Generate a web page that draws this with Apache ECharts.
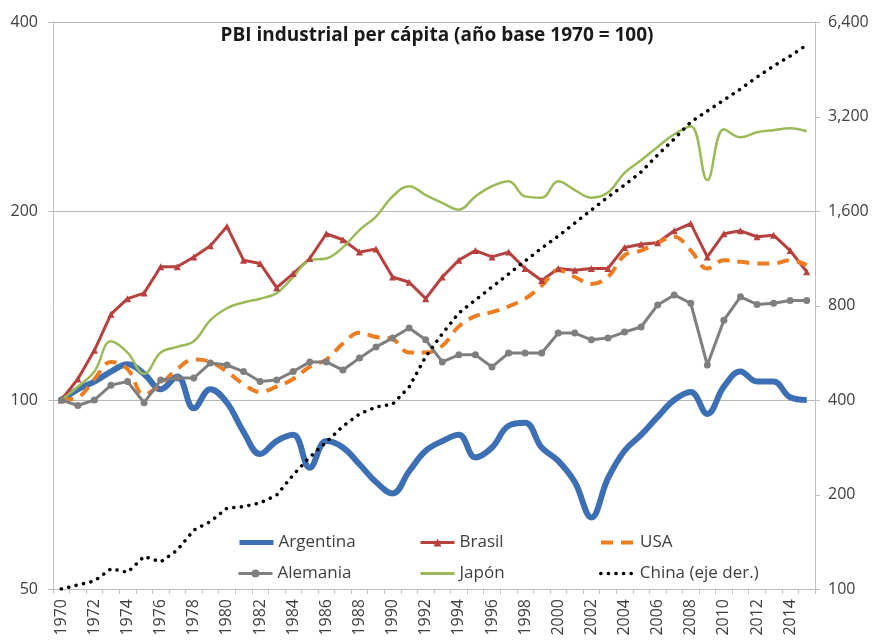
<!DOCTYPE html>
<html>
<head>
<meta charset="utf-8">
<script src="https://cdn.jsdelivr.net/npm/echarts@6/dist/echarts.min.js"></script>
<style>
  html, body { margin: 0; padding: 0; background: #fff; }
  #chart { width: 874px; height: 643px; }
</style>
</head>
<body>
<div id="chart"></div>
<script>
// años 1970-2015
const years = []
for (let y = 1970; y <= 2015; y++) years.push(String(y))

// índices base 1970 = 100
const argentina = [100, 104, 107, 111, 114, 110, 104, 109, 97, 104, 99, 89, 82, 86, 88, 78, 86, 84, 79, 74,
  71, 77, 83, 86, 88, 81, 84, 91, 92, 84, 80, 74, 65, 75, 83, 88, 94, 100, 103, 95,
  105, 111, 107, 107, 101, 100]
const brasil = [100, 108, 120, 137, 145, 148, 163, 163, 169, 176, 189, 167, 165, 151, 159, 168, 184, 180, 172, 174,
  157, 154, 145, 157, 167, 173, 169, 172, 162, 155, 162, 161, 162, 162, 175, 177, 178, 186, 191, 169,
  184, 186, 182, 183, 173, 160]
const usa = [100, 101, 108, 115, 112, 102, 106, 112, 116, 115, 111, 106, 103, 105, 108, 113, 116, 123, 128, 126,
  125, 119, 119, 122, 131, 136, 138, 141, 145, 152, 161, 157, 153, 157, 170, 173, 178, 182, 173, 162,
  167, 166, 165, 165, 167, 164]
const alemania = [100, 98, 100, 105.6, 107, 99, 107.6, 108.4, 108.4, 114.5, 113.7, 111, 107, 107.6, 111, 115, 115, 111.6, 116.6, 121.5,
  125.5, 130.2, 124.7, 115, 118, 118, 112.9, 118.8, 118.8, 118.8, 127.8, 127.8, 124.7, 125.5, 128.3, 130.7, 141.7, 147, 142.6, 113.7,
  134, 146, 142, 142.6, 144, 144]
const japon = [100, 105, 111, 124, 119, 110, 119, 121.5, 124, 134, 140, 143, 145, 148, 157, 167, 168, 175, 186.5, 196,
  211, 219, 212, 206, 201, 211, 219, 223, 211, 210, 223, 216, 210, 214, 230, 241, 253, 265, 273, 224,
  270, 262, 267, 269, 271, 268]
// China en el eje derecho
const china = [100, 103, 106, 116, 113, 127, 122, 133, 154, 164, 181, 183, 188, 199, 231, 263, 294, 330, 361, 380,
  388, 440, 550, 650, 757, 833, 916, 1008, 1109, 1219, 1331, 1465, 1612, 1773, 1936, 2130, 2413, 2714, 3074, 3331,
  3612, 3915, 4275, 4634, 4987, 5407]

const leftTicks = [50, 100, 200, 400]
const rightTicks = [100, 200, 400, 800, 1600, 3200, 6400]

const fontFamily = '"Open Sans", "Noto Sans", sans-serif'
const axisGrey = '#bfbfbf'
const labelColor = '#404040'

// el eje log devuelve 399.99..., se redondea al valor de la lista
const nearest = (list, v) => list.reduce((a, b) => (Math.abs(b - v) < Math.abs(a - v) ? b : a))

const chart = echarts.init(document.getElementById('chart'))

const legendItem = (name, left, top, lineStyle, hideSymbol) => ({
  data: [name],
  left: left,
  top: top,
  padding: 0,
  itemWidth: 34,
  itemHeight: 10,
  lineStyle: lineStyle,
  itemStyle: hideSymbol ? { opacity: 0 } : {},
  textStyle: { fontFamily: fontFamily, fontSize: 17, color: '#404040' }
})

const option = {
  animation: false,
  title: {
    text: 'PBI industrial per cápita (año base 1970 = 100)',
    left: 'center',
    top: 26,
    padding: 0,
    textStyle: { fontFamily: fontFamily, fontSize: 19, fontWeight: 'bold', color: '#1a1a1a' }
  },
  legend: [
    legendItem('Argentina', 237, 534, { width: 5 }, true),
    legendItem('Brasil', 419, 534, { width: 3 }, false),
    legendItem('USA', 599, 534, { width: 4 }, true),
    legendItem('Alemania', 237, 565, { width: 3 }, false),
    legendItem('Japón', 419, 565, { width: 3 }, true),
    legendItem('China (eje der.)', 599, 565, { width: 3.5 }, true)
  ],
  grid: { left: 53, right: 59, top: 22, bottom: 54 },
  xAxis: {
    type: 'category',
    data: years,
    boundaryGap: true,
    axisLine: { lineStyle: { color: axisGrey, width: 1 } },
    axisTick: { show: true, interval: 0, length: 5, lineStyle: { color: axisGrey } },
    axisLabel: {
      interval: 1,
      rotate: 90,
      margin: 10,
      fontFamily: fontFamily,
      fontSize: 16,
      color: labelColor
    }
  },
  yAxis: [
    {
      type: 'log',
      logBase: 2,
      min: 50,
      max: 400,
      interval: 1,
      axisLine: { show: true, lineStyle: { color: axisGrey } },
      axisTick: { show: true, length: 5, lineStyle: { color: axisGrey } },
      splitLine: { show: true, lineStyle: { color: '#b8b8b8', width: 1 } },
      axisLabel: {
        margin: 15,
        fontFamily: fontFamily,
        fontSize: 16,
        color: labelColor,
        formatter: v => String(nearest(leftTicks, v))
      }
    },
    {
      type: 'log',
      logBase: 2,
      min: 100,
      max: 6400,
      interval: 1,
      position: 'right',
      axisLine: { show: true, lineStyle: { color: axisGrey } },
      axisTick: { show: true, length: 5, lineStyle: { color: axisGrey } },
      splitLine: { show: false },
      axisLabel: {
        margin: 13,
        fontFamily: fontFamily,
        fontSize: 16,
        color: labelColor,
        formatter: v => nearest(rightTicks, v).toLocaleString('en-US')
      }
    }
  ],
  series: [
    {
      name: 'Argentina',
      type: 'line',
      data: argentina,
      smooth: 0.4,
      symbol: 'none',
      lineStyle: { color: '#3d6fb5', width: 6 },
      itemStyle: { color: '#3d6fb5' }
    },
    {
      name: 'Brasil',
      type: 'line',
      data: brasil,
      symbol: 'triangle',
      symbolSize: 7,
      lineStyle: { color: '#b7413e', width: 3 },
      itemStyle: { color: '#b7413e' }
    },
    {
      name: 'USA',
      type: 'line',
      data: usa,
      smooth: 0.4,
      symbol: 'none',
      lineStyle: { color: '#ee7d22', width: 4, type: [12, 8] },
      itemStyle: { color: '#ee7d22' }
    },
    {
      name: 'Alemania',
      type: 'line',
      data: alemania,
      symbol: 'circle',
      symbolSize: 7,
      lineStyle: { color: '#7f7f7f', width: 3 },
      itemStyle: { color: '#7f7f7f' }
    },
    {
      name: 'Japón',
      type: 'line',
      data: japon,
      smooth: 0.4,
      symbol: 'none',
      lineStyle: { color: '#9bbb59', width: 2.5 },
      itemStyle: { color: '#9bbb59' }
    },
    {
      name: 'China (eje der.)',
      type: 'line',
      yAxisIndex: 1,
      data: china,
      symbol: 'none',
      lineStyle: { color: '#000', width: 3.5, type: [0.1, 7.5], cap: 'round' },
      itemStyle: { color: '#000' }
    }
  ]
}

chart.setOption(option)
</script>
</body>
</html>
